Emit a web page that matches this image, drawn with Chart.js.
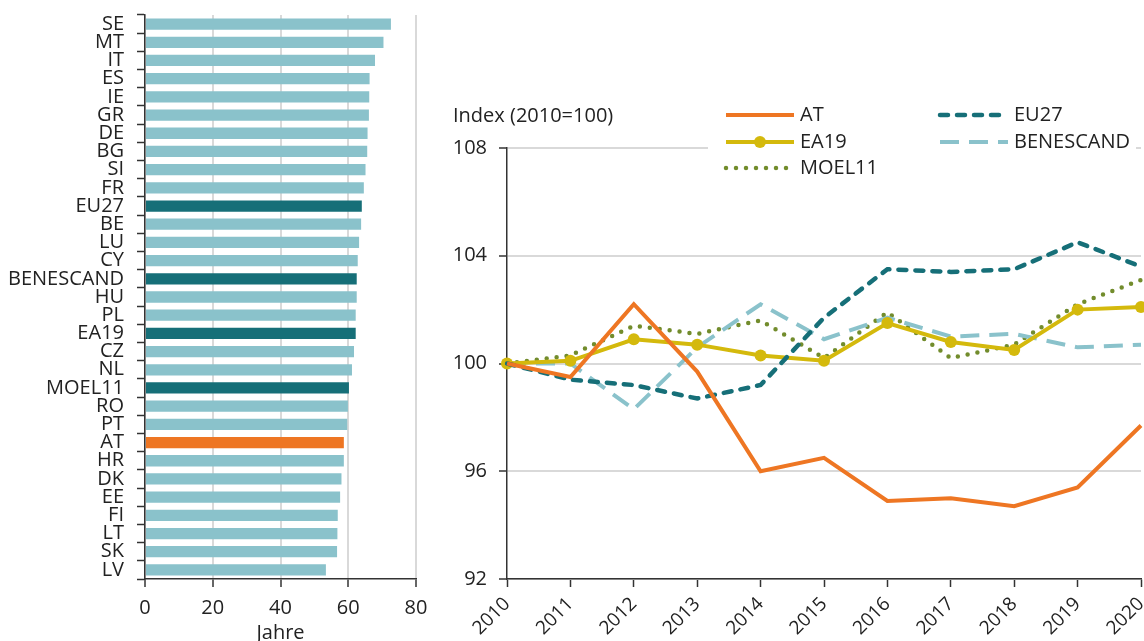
<!DOCTYPE html>
<html>
<head>
<meta charset="utf-8">
<script src="https://cdn.jsdelivr.net/npm/chart.js@4.4.0/dist/chart.umd.min.js"></script>
<style>
  body { margin: 0; background: #fff; width: 1144px; height: 641px; overflow: hidden; position: relative; }
  #leftBox { position: absolute; left: 0; top: 0; width: 430px; height: 641px; }
  #rightBox { position: absolute; left: 430px; top: 0; width: 730px; height: 641px; }
</style>
</head>
<body>
<div id="leftBox"><canvas id="barChart"></canvas></div>
<div id="rightBox"><canvas id="lineChart"></canvas></div>
<script>
// Balkendiagramm: Länder und Werte (Jahre)
const countries = ['SE','MT','IT','ES','IE','GR','DE','BG','SI','FR','EU27','BE','LU','CY','BENESCAND',
  'HU','PL','EA19','CZ','NL','MOEL11','RO','PT','AT','HR','DK','EE','FI','LT','SK','LV'];
const years = [72.6,70.4,67.9,66.3,66.2,66.1,65.7,65.6,65.1,64.6,64.0,63.8,63.2,62.8,62.5,
  62.5,62.2,62.2,61.7,61.1,60.2,59.9,59.7,58.7,58.7,58.0,57.6,56.9,56.8,56.7,53.4];
const xTicks = [0, 20, 40, 60, 80];

// Liniendiagramm: Index (2010=100)
const periods = ['2010','2011','2012','2013','2014','2015','2016','2017','2018','2019','2020'];
const atIdx = [100, 99.5, 102.2, 99.7, 96.0, 96.5, 94.9, 95.0, 94.7, 95.4, 97.7];
const eu27Idx = [100, 99.4, 99.2, 98.7, 99.2, 101.7, 103.5, 103.4, 103.5, 104.5, 103.6];
const ea19Idx = [100, 100.1, 100.9, 100.7, 100.3, 100.1, 101.5, 100.8, 100.5, 102.0, 102.1];
const beneIdx = [100, 100.0, 98.3, 100.6, 102.2, 100.9, 101.7, 101.0, 101.1, 100.6, 100.7];
const moelIdx = [100, 100.3, 101.4, 101.1, 101.6, 100.2, 101.9, 100.2, 100.7, 102.2, 103.1];

const FONT = "'Open Sans', 'Noto Sans', sans-serif";
const TXT = '#222';
const C_LIGHT = '#8ac2cb', C_DARK = '#166f78', C_ORANGE = '#ee7623';
const C_YELLOW = '#d4b90c', C_OLIVE = '#728c2c';

const barColors = countries.map(c => {
  if (c === 'AT') return C_ORANGE;
  if (['EU27', 'BENESCAND', 'EA19', 'MOEL11'].includes(c)) return C_DARK;
  return C_LIGHT;
});

new Chart(document.getElementById('barChart'), {
  type: 'bar',
  data: {
    labels: countries,
    datasets: [{ data: years, backgroundColor: barColors, barPercentage: 0.62, categoryPercentage: 1 }]
  },
  options: {
    indexAxis: 'y',
    responsive: true,
    maintainAspectRatio: false,
    animation: false,
    layout: { padding: { top: 15, right: 14, bottom: 0, left: 0 } },
    plugins: { legend: { display: false }, tooltip: { enabled: false } },
    scales: {
      y: {
        afterFit: s => { s.width = 145; s.paddingTop = 0; s.paddingBottom = 0; },
        grid: { offset: true, drawOnChartArea: false, tickLength: 8, tickColor: '#333', tickWidth: 1.5 },
        border: { color: '#333', width: 1.5 },
        ticks: { color: TXT, font: { family: FONT, size: 20 }, padding: 13, autoSkip: false }
      },
      x: {
        min: 0, max: 80,
        afterFit: s => { s.height = 62; s.paddingLeft = 0; s.paddingRight = 0; },
        afterBuildTicks: s => { s.ticks = xTicks.map(v => ({ value: v })); },
        grid: { color: '#d9d9d9', lineWidth: 2, tickLength: 8, tickColor: '#333', tickWidth: 1.5 },
        border: { color: '#333', width: 1.5 },
        ticks: { color: TXT, font: { family: FONT, size: 20 }, padding: 9, maxRotation: 0 },
        title: { display: true, text: 'Jahre', color: TXT, font: { family: FONT, size: 20 }, padding: { top: 0, bottom: -4 } }
      }
    }
  }
});

const seriesLegend = {
  id: 'seriesLegend',
  afterDraw(chart) {
    const ctx = chart.ctx;
    ctx.save();
    ctx.fillStyle = '#fff';
    ctx.fillRect(278, 98, 428, 82);
    ctx.font = '20px ' + FONT;
    ctx.fillStyle = TXT;
    ctx.textBaseline = 'middle';
    ctx.textAlign = 'left';
    ctx.fillText('Index (2010=100)', 23, 116);
    const slots = [[296, 115], [296, 142], [296, 168], [510, 115], [510, 142]];
    const order = [0, 2, 4, 1, 3];
    order.forEach((di, k) => {
      const ds = chart.data.datasets[di];
      const [x, y] = slots[k];
      ctx.save();
      ctx.strokeStyle = ds.borderColor;
      ctx.lineWidth = ds.borderWidth;
      ctx.lineCap = ds.borderCapStyle || 'butt';
      ctx.setLineDash(ds.borderDash || []);
      ctx.beginPath();
      ctx.moveTo(x, y);
      ctx.lineTo(x + 68, y);
      ctx.stroke();
      if (ds.pointRadius) {
        ctx.setLineDash([]);
        ctx.fillStyle = ds.borderColor;
        ctx.beginPath();
        ctx.arc(x + 34, y, ds.pointRadius, 0, Math.PI * 2);
        ctx.fill();
      }
      ctx.restore();
      ctx.fillText(ds.label, x + 74, y);
    });
    ctx.restore();
  }
};

new Chart(document.getElementById('lineChart'), {
  type: 'line',
  data: {
    labels: periods,
    datasets: [
      { label: 'AT', data: atIdx, borderColor: C_ORANGE, borderWidth: 4, pointRadius: 0 },
      { label: 'EU27', data: eu27Idx, borderColor: C_DARK, borderWidth: 4.5, pointRadius: 0, borderDash: [8, 9], borderCapStyle: 'round' },
      { label: 'EA19', data: ea19Idx, borderColor: C_YELLOW, backgroundColor: C_YELLOW, borderWidth: 4, pointRadius: 6, pointBorderWidth: 0 },
      { label: 'BENESCAND', data: beneIdx, borderColor: C_LIGHT, borderWidth: 4, pointRadius: 0, borderDash: [19, 10] },
      { label: 'MOEL11', data: moelIdx, borderColor: C_OLIVE, borderWidth: 4.5, pointRadius: 0, borderDash: [0, 10], borderCapStyle: 'round' }
    ]
  },
  options: {
    responsive: true,
    maintainAspectRatio: false,
    animation: false,
    layout: { padding: { top: 148, right: 19, bottom: 0, left: 0 } },
    elements: { line: { tension: 0 } },
    plugins: { legend: { display: false }, tooltip: { enabled: false } },
    scales: {
      x: {
        afterFit: s => { s.height = 62; s.paddingLeft = 0; s.paddingRight = 0; },
        grid: { drawOnChartArea: false, tickLength: 8, tickColor: '#333', tickWidth: 1.5 },
        border: { color: '#333', width: 1.5 },
        ticks: { color: TXT, font: { family: FONT, size: 19 }, padding: 6, minRotation: 45, maxRotation: 45, autoSkip: false }
      },
      y: {
        min: 92, max: 108,
        afterFit: s => { s.width = 77; s.paddingTop = 0; s.paddingBottom = 0; },
        grid: { color: '#d9d9d9', lineWidth: 2, tickLength: 8, tickColor: '#333', tickWidth: 1.5 },
        border: { color: '#333', width: 1.5 },
        ticks: { stepSize: 4, color: TXT, font: { family: FONT, size: 20 }, padding: 12 }
      }
    }
  },
  plugins: [seriesLegend]
});
</script>
</body>
</html>
